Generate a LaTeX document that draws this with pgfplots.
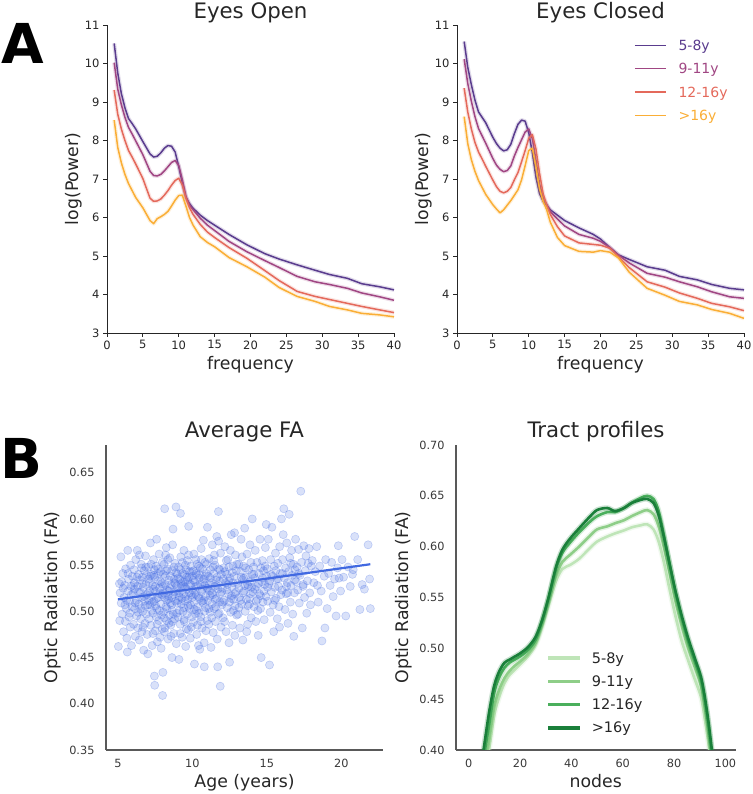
\documentclass[border=0pt]{standalone}
\usepackage{fontspec}
\setmainfont{DejaVu Sans}
\usepackage{pgfplots}
\pgfplotsset{compat=1.18}
\usepackage{pgfplotstable}

\definecolor{ink}{HTML}{262626}
\definecolor{c1}{HTML}{5A3C8E}
\definecolor{c2}{HTML}{A04683}
\definecolor{c3}{HTML}{E4695B}
\definecolor{c4}{HTML}{FAAE36}
\definecolor{g1}{HTML}{BFE5B8}
\definecolor{g2}{HTML}{8ECE88}
\definecolor{g3}{HTML}{4AAF5C}
\definecolor{g4}{HTML}{1A7F3A}
\definecolor{royal}{HTML}{4169E1}

% power spectra, eyes open: a=5-8y b=9-11y c=12-16y d=>16y
\pgfplotstableread{
f a b c d
1.0 10.52 10.02 9.31 8.53
1.5 9.75 9.33 8.68 7.82
2.0 9.22 8.93 8.30 7.42
2.5 8.85 8.60 8.00 7.12
3.0 8.57 8.34 7.74 6.88
3.5 8.44 8.17 7.57 6.70
4.0 8.30 7.99 7.39 6.52
5.0 7.97 7.63 7.01 6.25
6.0 7.65 7.20 6.50 5.92
6.5 7.57 7.09 6.42 5.84
7.0 7.59 7.08 6.43 5.97
7.5 7.68 7.12 6.48 6.02
8.0 7.80 7.21 6.58 6.08
8.5 7.87 7.32 6.70 6.16
9.0 7.85 7.43 6.84 6.30
9.5 7.70 7.48 6.96 6.45
10.0 7.32 7.35 7.02 6.57
10.5 6.90 6.98 6.84 6.58
11.0 6.52 6.55 6.50 6.30
11.5 6.36 6.32 6.25 6.00
12.0 6.24 6.20 6.08 5.80
13.0 6.06 5.98 5.82 5.50
14.0 5.92 5.80 5.62 5.35
15.0 5.80 5.66 5.48 5.24
17.0 5.56 5.38 5.22 4.96
19.5 5.29 5.11 4.94 4.72
22.0 5.06 4.88 4.62 4.45
24.0 4.92 4.70 4.36 4.18
26.5 4.77 4.47 4.08 3.95
29.0 4.63 4.33 3.95 3.82
31.0 4.52 4.26 3.87 3.69
33.5 4.42 4.16 3.77 3.60
35.5 4.28 4.04 3.69 3.51
38.0 4.20 3.94 3.60 3.47
40.0 4.12 3.85 3.53 3.42
}\eyesopen

% power spectra, eyes closed
\pgfplotstableread{
f a b c d
1.0 10.57 10.11 9.36 8.62
1.5 9.90 9.48 8.74 7.92
2.0 9.45 9.02 8.30 7.50
2.5 9.05 8.62 7.95 7.20
3.0 8.74 8.31 7.70 6.96
3.5 8.60 8.12 7.52 6.78
4.0 8.46 7.93 7.33 6.60
5.0 8.08 7.53 6.97 6.33
5.5 7.92 7.36 6.80 6.22
6.0 7.80 7.25 6.68 6.12
6.5 7.73 7.19 6.64 6.20
7.0 7.76 7.22 6.68 6.32
7.5 7.90 7.34 6.78 6.44
8.0 8.18 7.60 6.98 6.58
8.5 8.42 7.82 7.17 6.72
9.0 8.53 8.02 7.45 6.98
9.5 8.50 8.22 7.74 7.35
10.0 8.20 8.30 8.06 7.74
10.5 7.68 8.05 8.15 7.80
11.0 7.05 7.50 7.78 7.32
11.5 6.62 6.88 7.15 6.75
12.0 6.42 6.52 6.62 6.42
12.5 6.32 6.34 6.32 6.20
13.0 6.20 6.15 6.08 5.88
14.0 6.06 5.96 5.76 5.48
15.0 5.92 5.78 5.52 5.27
17.0 5.73 5.56 5.34 5.12
19.0 5.56 5.46 5.30 5.10
20.0 5.44 5.38 5.28 5.14
21.3 5.22 5.22 5.20 5.10
22.5 5.03 5.02 4.98 4.95
24.0 4.91 4.82 4.70 4.58
26.5 4.72 4.55 4.33 4.16
29.0 4.63 4.45 4.19 3.98
31.0 4.47 4.33 4.04 3.82
33.5 4.38 4.20 3.90 3.73
35.5 4.26 4.07 3.77 3.61
38.0 4.16 3.94 3.68 3.51
40.0 4.12 3.90 3.58 3.38
}\eyesclosed

% tract profiles (FA along the optic radiation)
\pgfplotstableread{
n a b c d
4 0.350 0.355 0.365 0.368
6 0.372 0.380 0.395 0.404
8 0.402 0.410 0.425 0.438
10 0.435 0.443 0.457 0.464
12 0.453 0.460 0.472 0.478
14 0.466 0.471 0.481 0.486
16 0.474 0.478 0.486 0.489
18 0.479 0.483 0.489 0.492
20 0.484 0.487 0.492 0.495
23 0.492 0.494 0.498 0.501
26 0.503 0.505 0.508 0.511
28.5 0.520 0.523 0.526 0.527
31 0.541 0.545 0.548 0.549
34 0.566 0.571 0.578 0.580
36.5 0.578 0.585 0.594 0.597
39.5 0.582 0.592 0.604 0.608
43 0.588 0.600 0.614 0.618
47 0.598 0.610 0.624 0.629
50 0.605 0.617 0.630 0.636
54 0.610 0.620 0.634 0.638
57 0.613 0.623 0.634 0.635
60.5 0.616 0.626 0.638 0.638
63.5 0.619 0.630 0.643 0.643
67 0.621 0.634 0.648 0.646
69.5 0.622 0.636 0.650 0.647
72 0.617 0.632 0.647 0.643
74 0.605 0.620 0.635 0.631
76 0.585 0.600 0.612 0.610
78 0.561 0.577 0.587 0.586
80.5 0.532 0.547 0.556 0.557
83 0.507 0.522 0.530 0.532
85.5 0.488 0.500 0.507 0.510
88 0.470 0.482 0.488 0.491
90.5 0.452 0.463 0.469 0.472
92 0.430 0.442 0.449 0.452
93.5 0.405 0.415 0.422 0.426
95 0.375 0.385 0.390 0.395
97 0.340 0.350 0.355 0.360
}\tract

\pgfplotsset{
  base/.style={scale only axis, axis x line*=bottom, axis y line*=left,
    /pgf/number format/assume math mode=true,
    label style={font=\fontsize{17.3}{20}\selectfont, text=ink},
    xlabel style={at={(axis description cs:0.5,0)}, anchor=base},
    ylabel style={anchor=base},
    legend cell align=left,
  },
  psd/.style={base, width=287pt, height=308pt,
    xmin=0, xmax=40, ymin=3, ymax=11,
    xtick={0,5,10,15,20,25,30,35,40}, ytick={3,4,5,6,7,8,9,10,11},
    axis line style={-, draw=ink, line width=0.9pt},
    tick align=outside, major tick length=4pt,
    tick style={ink, line width=0.9pt},
    ticklabel style={font=\fontsize{11.5}{13}\selectfont, text=ink},
    xlabel={frequency}, xlabel style={yshift=-36.8pt},
    ylabel={log(Power)}, ylabel style={at={(axis description cs:-0.101,0.5)}},
  },
  dti/.style={base, height=305pt,
    axis line style={-, draw=black!65, line width=1.3pt},
    major tick length=0pt, tick style={draw=none},
    ticklabel style={font=\fontsize{11.3}{13}\selectfont, text=black!78},
    xticklabel style={yshift=-6pt},
    yticklabel style={xshift=-8pt, /pgf/number format/.cd, fixed, fixed zerofill, precision=2},
    xlabel style={yshift=-37.7pt},
    ylabel={Optic Radiation (FA)},
  },
  band/.style={line width=4pt, opacity=0.18, forget plot, line join=round},
  spec/.style={line width=1.5pt, line join=round},
  gband/.style={line width=5.5pt, opacity=0.22, forget plot, smooth},
  gline/.style={line width=2.6pt, smooth},
}

\begin{document}
\begin{tikzpicture}
\path[use as bounding box] (0pt,0pt) rectangle (752pt,794pt);

\node[anchor=base west, inner sep=0pt, font=\fontsize{55}{60}\selectfont\bfseries] at (1.5pt,730.7pt) {A};
\node[anchor=base west, inner sep=0pt, font=\fontsize{55}{60}\selectfont\bfseries] at (0pt,315.7pt) {B};

\begin{scope}[every node/.style={anchor=base, inner sep=0pt, font=\fontsize{21.3}{24}\selectfont, text=ink}]
\node at (250.5pt,775.7pt) {Eyes Open};
\node at (600.5pt,775.7pt) {Eyes Closed};
\node at (244.5pt,356.3pt) {Average FA};
\node at (596pt,356.3pt) {Tract profiles};
\end{scope}

% Eyes open
\begin{axis}[psd, at={(107pt,461pt)}, anchor=south west]
\addplot[c1, band] table[x=f, y=a]{\eyesopen};
\addplot[c1, spec] table[x=f, y=a]{\eyesopen};
\addplot[c2, band] table[x=f, y=b]{\eyesopen};
\addplot[c2, spec] table[x=f, y=b]{\eyesopen};
\addplot[c3, band] table[x=f, y=c]{\eyesopen};
\addplot[c3, spec] table[x=f, y=c]{\eyesopen};
\addplot[c4, band] table[x=f, y=d]{\eyesopen};
\addplot[c4, spec] table[x=f, y=d]{\eyesopen};
\end{axis}

% Eyes closed
\begin{axis}[psd, at={(457pt,461pt)}, anchor=south west,
  legend style={at={(axis description cs:0.617,0.957)}, anchor=north west,
    draw=none, fill=none, inner sep=0pt, row sep=9.3pt, column sep=12pt,
    font=\fontsize{14}{16}\selectfont,
    nodes={inner sep=0pt, text height=12pt, text depth=2pt}},
  legend image code/.code={\draw[#1, line width=1.3pt] (0pt,0pt) -- (31pt,0pt);}]
\addplot[c1, band] table[x=f, y=a]{\eyesclosed};
\addplot[c1, spec] table[x=f, y=a]{\eyesclosed};
\addlegendentry{\textcolor{c1}{5-8y}}
\addplot[c2, band] table[x=f, y=b]{\eyesclosed};
\addplot[c2, spec] table[x=f, y=b]{\eyesclosed};
\addlegendentry{\textcolor{c2}{9-11y}}
\addplot[c3, band] table[x=f, y=c]{\eyesclosed};
\addplot[c3, spec] table[x=f, y=c]{\eyesclosed};
\addlegendentry{\textcolor{c3}{12-16y}}
\addplot[c4, band] table[x=f, y=d]{\eyesclosed};
\addplot[c4, spec] table[x=f, y=d]{\eyesclosed};
\addlegendentry{\textcolor{c4}{>16y}}
\end{axis}

% Average FA against age
\begin{axis}[dti, at={(106pt,44pt)}, anchor=south west, width=277pt,
  xmin=4.2, xmax=22.8, ymin=0.35, ymax=0.68,
  xtick={5,10,15,20}, ytick={0.35,0.40,0.45,0.50,0.55,0.60,0.65},
  xlabel={Age (years)},
  ylabel style={at={(axis description cs:-0.1733,0.5)}}]
\addplot[only marks, mark=*, mark size=4.1pt,
  mark options={draw=royal, fill=royal, fill opacity=0.2, draw opacity=0.28, line width=0.6pt}]
coordinates {
(5.03,0.462)(5.10,0.530)(5.15,0.520)(5.22,0.509)(5.20,0.559)(5.28,0.497)(5.33,0.541)(5.38,0.478)
(5.41,0.515)(5.45,0.528)(5.50,0.489)(5.52,0.546)(5.57,0.503)(5.60,0.471)(5.63,0.456)(5.66,0.566)
(5.70,0.522)(5.72,0.535)(5.75,0.494)(5.79,0.511)(5.83,0.483)(5.85,0.550)(5.88,0.527)(5.91,0.463)
(5.94,0.505)(5.97,0.538)(5.12,0.490)(5.35,0.525)(5.58,0.512)(5.80,0.498)
(6.02,0.519)(6.05,0.486)(6.08,0.545)(6.10,0.531)(6.14,0.503)(6.17,0.473)(6.20,0.556)(6.23,0.512)
(6.26,0.495)(6.30,0.566)(6.32,0.527)(6.35,0.482)(6.38,0.540)(6.41,0.508)(6.44,0.469)(6.47,0.534)
(6.50,0.521)(6.53,0.492)(6.56,0.551)(6.58,0.515)(6.61,0.478)(6.64,0.537)(6.67,0.500)(6.70,0.526)
(6.73,0.458)(6.76,0.544)(6.79,0.511)(6.82,0.487)(6.85,0.560)(6.88,0.529)(6.91,0.497)(6.94,0.518)
(6.97,0.475)(6.12,0.524)(6.36,0.499)(6.59,0.547)(6.83,0.506)(6.45,0.561)(6.68,0.483)(6.92,0.539)
(7.01,0.454)(7.03,0.520)(7.06,0.548)(7.09,0.492)(7.12,0.531)(7.15,0.507)(7.18,0.574)(7.21,0.485)
(7.24,0.540)(7.27,0.516)(7.30,0.463)(7.33,0.528)(7.36,0.498)(7.39,0.556)(7.42,0.511)(7.45,0.430)
(7.47,0.420)(7.48,0.537)(7.51,0.479)(7.54,0.522)(7.57,0.549)(7.60,0.578)(7.62,0.503)(7.65,0.467)
(7.68,0.533)(7.71,0.515)(7.74,0.490)(7.77,0.562)(7.80,0.525)(7.83,0.472)(7.86,0.543)(7.89,0.508)
(7.92,0.496)(7.95,0.530)(7.98,0.553)(7.08,0.512)(7.26,0.501)(7.44,0.545)(7.63,0.486)(7.81,0.519)
(7.97,0.481)(7.17,0.538)(7.35,0.476)(7.53,0.506)(7.72,0.541)(7.90,0.460)(7.40,0.524)(7.58,0.494)
(8.02,0.434)(8.00,0.409)(8.04,0.527)(8.07,0.499)(8.10,0.551)(8.13,0.515)(8.14,0.611)(8.16,0.482)
(8.19,0.538)(8.22,0.505)(8.25,0.569)(8.28,0.490)(8.31,0.523)(8.34,0.546)(8.37,0.470)(8.40,0.513)
(8.43,0.534)(8.46,0.496)(8.49,0.558)(8.52,0.509)(8.55,0.485)(8.58,0.529)(8.61,0.544)(8.63,0.450)
(8.64,0.501)(8.67,0.572)(8.70,0.589)(8.72,0.518)(8.75,0.476)(8.78,0.535)(8.81,0.492)(8.84,0.552)
(8.87,0.511)(8.90,0.613)(8.92,0.465)(8.95,0.527)(8.98,0.540)(8.06,0.520)(8.24,0.544)(8.42,0.487)
(8.60,0.507)(8.79,0.521)(8.96,0.498)(8.12,0.478)(8.30,0.503)(8.48,0.525)(8.66,0.489)(8.85,0.530)
(8.20,0.561)(8.38,0.517)(8.57,0.473)(8.76,0.548)
(9.01,0.522)(9.04,0.494)(9.07,0.548)(9.10,0.448)(9.12,0.516)(9.15,0.535)(9.18,0.486)(9.20,0.606)
(9.22,0.559)(9.25,0.508)(9.28,0.527)(9.31,0.472)(9.34,0.541)(9.37,0.500)(9.40,0.519)(9.43,0.566)
(9.46,0.489)(9.49,0.532)(9.52,0.511)(9.55,0.462)(9.58,0.545)(9.61,0.524)(9.64,0.497)(9.67,0.555)
(9.70,0.513)(9.73,0.480)(9.75,0.592)(9.77,0.537)(9.80,0.503)(9.83,0.529)(9.86,0.471)(9.89,0.549)
(9.92,0.518)(9.95,0.494)(9.98,0.538)(9.06,0.512)(9.24,0.530)(9.42,0.504)(9.60,0.481)(9.79,0.520)
(9.96,0.543)(9.14,0.501)(9.33,0.553)(9.51,0.526)(9.69,0.534)(9.87,0.507)(9.19,0.476)(9.38,0.528)
(9.56,0.516)(9.74,0.561)(9.93,0.483)(9.47,0.540)
(10.02,0.523)(10.05,0.488)(10.08,0.544)(10.11,0.510)(10.14,0.443)(10.17,0.532)(10.20,0.497)(10.23,0.556)
(10.26,0.518)(10.29,0.475)(10.32,0.539)(10.35,0.505)(10.38,0.527)(10.41,0.463)(10.44,0.549)(10.47,0.514)
(10.50,0.459)(10.53,0.530)(10.56,0.494)(10.59,0.568)(10.62,0.521)(10.65,0.482)(10.68,0.546)(10.71,0.509)
(10.74,0.577)(10.77,0.535)(10.80,0.440)(10.82,0.500)(10.85,0.553)(10.88,0.516)(10.91,0.479)(10.94,0.541)
(10.97,0.525)(10.10,0.562)(10.28,0.501)(10.46,0.536)(10.64,0.511)(10.83,0.528)(10.99,0.490)(10.15,0.519)
(10.34,0.485)(10.52,0.547)(10.70,0.532)(10.89,0.504)(10.25,0.541)(10.43,0.498)(10.61,0.556)(10.79,0.466)
(11.01,0.591)(11.04,0.512)(11.07,0.538)(11.10,0.486)(11.13,0.557)(11.16,0.522)(11.19,0.499)(11.22,0.545)
(11.25,0.461)(11.28,0.531)(11.31,0.508)(11.34,0.572)(11.37,0.518)(11.40,0.477)(11.43,0.541)(11.46,0.503)
(11.49,0.527)(11.52,0.550)(11.55,0.489)(11.58,0.534)(11.61,0.514)(11.64,0.581)(11.67,0.470)(11.70,0.440)
(11.72,0.524)(11.75,0.608)(11.77,0.546)(11.80,0.498)(11.83,0.533)(11.86,0.519)(11.87,0.419)(11.89,0.563)
(11.92,0.483)(11.95,0.540)(11.98,0.507)(11.12,0.529)(11.30,0.493)(11.48,0.561)(11.66,0.537)(11.84,0.510)
(11.20,0.517)(11.39,0.548)(11.57,0.505)(11.76,0.576)
(12.02,0.525)(12.06,0.493)(12.10,0.547)(12.14,0.512)(12.18,0.570)(12.22,0.531)(12.26,0.478)(12.30,0.540)
(12.34,0.504)(12.38,0.556)(12.42,0.519)(12.46,0.466)(12.50,0.445)(12.53,0.536)(12.57,0.499)(12.61,0.583)
(12.65,0.527)(12.69,0.485)(12.73,0.549)(12.77,0.513)(12.81,0.538)(12.85,0.474)(12.89,0.561)(12.93,0.521)
(12.97,0.496)(12.08,0.535)(12.28,0.555)(12.48,0.510)(12.67,0.542)(12.87,0.506)(12.16,0.489)(12.36,0.529)
(12.55,0.566)(12.75,0.501)(12.95,0.544)(12.44,0.533)(12.63,0.517)(12.83,0.585)
(13.03,0.530)(13.07,0.497)(13.11,0.551)(13.15,0.515)(13.19,0.482)(13.23,0.543)(13.27,0.578)(13.31,0.508)
(13.35,0.534)(13.39,0.469)(13.43,0.549)(13.47,0.522)(13.51,0.590)(13.55,0.500)(13.59,0.537)(13.63,0.513)
(13.67,0.562)(13.71,0.486)(13.75,0.527)(13.79,0.545)(13.83,0.508)(13.87,0.572)(13.91,0.519)(13.95,0.493)
(13.99,0.540)(13.13,0.525)(13.33,0.559)(13.53,0.528)(13.73,0.506)(13.93,0.553)(13.25,0.512)(13.45,0.536)
(13.65,0.478)(13.85,0.532)
(14.02,0.600)(14.06,0.521)(14.10,0.548)(14.14,0.505)(14.18,0.536)(14.22,0.566)(14.26,0.489)(14.30,0.527)
(14.34,0.553)(14.38,0.513)(14.42,0.474)(14.46,0.541)(14.50,0.519)(14.54,0.578)(14.58,0.503)(14.62,0.450)
(14.66,0.532)(14.70,0.555)(14.74,0.510)(14.78,0.544)(14.82,0.491)(14.86,0.529)(14.90,0.569)(14.94,0.516)
(14.98,0.538)(14.20,0.524)(14.40,0.501)(14.60,0.547)(14.80,0.522)(14.96,0.594)
(15.02,0.546)(15.06,0.511)(15.10,0.578)(15.14,0.530)(15.18,0.442)(15.22,0.499)(15.26,0.556)(15.30,0.521)
(15.34,0.591)(15.38,0.538)(15.42,0.507)(15.46,0.478)(15.50,0.549)(15.54,0.526)(15.58,0.563)(15.62,0.514)
(15.66,0.535)(15.70,0.492)(15.74,0.552)(15.78,0.527)(15.82,0.505)(15.86,0.570)(15.90,0.541)(15.94,0.518)
(15.98,0.600)(15.20,0.533)(15.60,0.544)(15.85,0.483)
(16.02,0.523)(16.06,0.556)(16.10,0.583)(16.14,0.611)(16.18,0.536)(16.22,0.502)(16.26,0.547)(16.30,0.519)
(16.34,0.574)(16.38,0.531)(16.42,0.487)(16.46,0.543)(16.50,0.605)(16.54,0.558)(16.58,0.510)(16.62,0.528)
(16.66,0.566)(16.70,0.539)(16.74,0.497)(16.78,0.551)(16.81,0.473)(16.85,0.520)(16.89,0.545)(16.93,0.578)
(16.97,0.532)(16.40,0.520)
(17.03,0.548)(17.08,0.523)(17.13,0.567)(17.18,0.509)(17.23,0.539)(17.28,0.630)(17.33,0.553)(17.38,0.482)
(17.43,0.527)(17.48,0.571)(17.53,0.515)(17.58,0.544)(17.63,0.560)(17.68,0.498)(17.73,0.533)(17.78,0.552)
(17.83,0.568)(17.88,0.520)(17.93,0.507)(17.98,0.549)
(18.05,0.555)(18.15,0.531)(18.25,0.543)(18.35,0.570)(18.45,0.510)(18.55,0.549)(18.65,0.522)(18.70,0.468)
(18.85,0.538)(18.90,0.482)(18.95,0.556)(18.40,0.528)
(19.05,0.503)(19.15,0.541)(19.25,0.528)(19.35,0.553)(19.45,0.516)(19.55,0.535)(19.65,0.495)(19.80,0.571)
(19.85,0.536)(19.95,0.522)(19.75,0.547)
(20.05,0.556)(20.15,0.537)(20.30,0.495)(20.45,0.548)(20.60,0.527)(20.75,0.540)(20.90,0.581)(20.80,0.545)
(21.10,0.556)(21.25,0.502)(21.40,0.529)(21.55,0.524)(21.80,0.572)(21.90,0.535)(21.95,0.503)
(5.25,0.532)(5.47,0.507)(5.68,0.541)(5.90,0.518)(6.04,0.528)(6.16,0.509)(6.28,0.537)(6.40,0.521)
(6.52,0.503)(6.63,0.530)(6.75,0.516)(6.87,0.548)(6.99,0.507)(7.05,0.535)(7.14,0.522)(7.23,0.551)
(7.32,0.510)(7.41,0.539)(7.50,0.527)(7.59,0.514)(7.69,0.546)(7.78,0.501)(7.87,0.532)(7.96,0.518)
(8.05,0.540)(8.11,0.493)(8.18,0.529)(8.27,0.512)(8.35,0.556)(8.44,0.522)(8.53,0.538)(8.62,0.515)
(8.71,0.497)(8.80,0.531)(8.89,0.542)(8.97,0.509)(9.03,0.536)(9.11,0.520)(9.21,0.545)(9.29,0.514)
(9.36,0.532)(9.44,0.491)(9.53,0.550)(9.62,0.537)(9.71,0.506)(9.81,0.543)(9.90,0.529)(9.99,0.515)
(10.06,0.534)(10.13,0.502)(10.22,0.527)(10.31,0.551)(10.40,0.516)(10.49,0.540)(10.58,0.489)(10.67,0.524)
(10.76,0.512)(10.86,0.538)(10.95,0.551)(11.03,0.525)(11.11,0.503)(11.21,0.536)(11.33,0.520)(11.44,0.555)
(11.53,0.513)(11.63,0.528)(11.73,0.497)(11.85,0.545)(11.96,0.521)(12.05,0.510)(12.19,0.543)(12.32,0.523)
(12.45,0.548)(12.59,0.514)(12.72,0.531)(12.86,0.519)(12.99,0.551)(13.12,0.504)(13.28,0.537)(13.41,0.520)
(13.57,0.547)(13.70,0.529)(13.84,0.514)(13.97,0.526)(14.12,0.540)(14.28,0.511)(14.44,0.530)(14.57,0.517)
(14.72,0.536)(14.88,0.549)(15.04,0.526)(15.28,0.540)(15.52,0.512)(15.76,0.535)(16.05,0.541)(16.32,0.527)
(16.60,0.552)(16.88,0.534)(17.15,0.541)(17.45,0.529)
};
\addplot[color=royal, line width=2.2pt] coordinates {(5,0.513)(21.95,0.551)};
\end{axis}

% Tract profiles
\begin{axis}[dti, at={(456pt,44pt)}, anchor=south west, width=279.5pt,
  xmin=-4.95, xmax=103.95, ymin=0.40, ymax=0.70,
  xtick={0,20,40,60,80,100}, ytick={0.40,0.45,0.50,0.55,0.60,0.65,0.70},
  xlabel={nodes},
  ylabel style={at={(axis description cs:-0.1696,0.5)}},
  legend style={at={(axis description cs:0.322,0.325)}, anchor=north west,
    draw=none, fill=none, inner sep=0pt, row sep=9.3pt, column sep=10pt,
    font=\fontsize{14.5}{16}\selectfont, text=ink,
    nodes={inner sep=0pt, text height=12pt, text depth=2pt}},
  legend image code/.code={\draw[#1, line width=3.6pt] (0pt,0pt) -- (32pt,0pt);}]
\addplot[g1, gband] table[x=n, y=a]{\tract};
\addplot[g1, gline] table[x=n, y=a]{\tract};
\addlegendentry{5-8y}
\addplot[g2, gband] table[x=n, y=b]{\tract};
\addplot[g2, gline] table[x=n, y=b]{\tract};
\addlegendentry{9-11y}
\addplot[g3, gband] table[x=n, y=c]{\tract};
\addplot[g3, gline] table[x=n, y=c]{\tract};
\addlegendentry{12-16y}
\addplot[g4, gband] table[x=n, y=d]{\tract};
\addplot[g4, gline] table[x=n, y=d]{\tract};
\addlegendentry{>16y}
\end{axis}
\end{tikzpicture}
\end{document}
